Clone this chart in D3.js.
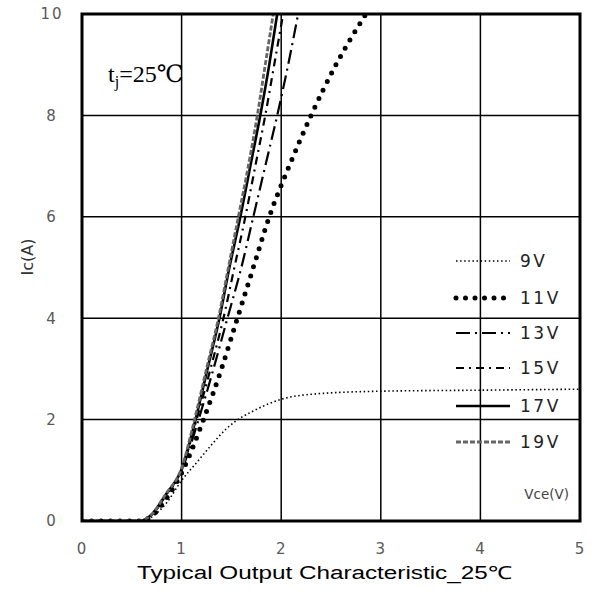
<!DOCTYPE html>
<html>
<head>
<meta charset="utf-8">
<script src="https://cdn.jsdelivr.net/npm/d3@7"></script>
<style>
  body { margin: 0; background: #fff; }
  .serif { font-family: "Liberation Serif", "Times New Roman", "DejaVu Serif", "Noto Serif", serif; }
</style>
</head>
<body>
<div id="chart"></div>
<script>
// gate voltages and Vce/Ic points
var series = ["9V", "11V", "13V", "15V", "17V", "19V"];

var vce9  = [0, 0.58, 0.7, 0.85, 1.0, 1.15, 1.3, 1.45, 1.55, 1.7, 2.0, 2.3, 3.0, 4.0, 5.0];
var ic9   = [0, 0, 0.08, 0.36, 0.8, 1.15, 1.5, 1.82, 1.98, 2.15, 2.4, 2.5, 2.56, 2.58, 2.6];

var vce11 = [0, 0.58, 0.7, 0.85, 1.0, 1.22, 1.4, 1.56, 1.72, 1.88, 2.08, 2.3, 2.55, 2.85];
var ic11  = [0, 0, 0.1, 0.45, 0.95, 2.0, 3.0, 4.0, 5.0, 6.0, 7.0, 8.0, 9.0, 10.0];

var vce13 = [0, 0.58, 0.7, 0.84, 1.0, 1.17, 1.32, 1.46, 1.6, 1.72, 1.84, 1.96, 2.07, 2.17];
var ic13  = [0, 0, 0.12, 0.5, 1.0, 2.0, 3.0, 4.0, 5.0, 6.0, 7.0, 8.0, 9.0, 10.0];

var vce15 = [0, 0.58, 0.7, 0.84, 1.0, 1.15, 1.29, 1.42, 1.53, 1.64, 1.74, 1.84, 1.93, 2.02];
var ic15  = [0, 0, 0.12, 0.5, 1.0, 2.0, 3.0, 4.0, 5.0, 6.0, 7.0, 8.0, 9.0, 10.0];

var vce17 = [0, 0.58, 0.7, 0.84, 1.0, 1.14, 1.26, 1.38, 1.48, 1.59, 1.69, 1.79, 1.88, 1.96];
var ic17  = [0, 0, 0.13, 0.52, 1.02, 2.0, 3.0, 4.0, 5.0, 6.0, 7.0, 8.0, 9.0, 10.0];

var vce19 = [0, 0.58, 0.7, 0.84, 1.0, 1.13, 1.25, 1.37, 1.47, 1.57, 1.67, 1.76, 1.84, 1.92];
var ic19  = [0, 0, 0.13, 0.53, 1.04, 2.0, 3.0, 4.0, 5.0, 6.0, 7.0, 8.0, 9.0, 10.0];

var xTicks = [0, 1, 2, 3, 4, 5];
var yTicks = [0, 2, 4, 6, 8, 10];

function init(){
    var w = 593, h = 594;
    var left = 82, right = 580, top = 14, bottom = 521;

    var xScale = d3.scaleLinear().domain([0, 5]).range([left, right]);
    var yScale = d3.scaleLinear().domain([0, 10]).range([bottom, top]);

    var svg = d3.select("#chart").append("svg")
                .attr("width", w)
                .attr("height", h);

    // grid
    var grid = svg.append("g");
    grid.selectAll(".gx").data(xTicks.slice(1, -1)).enter().append("line")
        .attr("x1", function(d){ return xScale(d); })
        .attr("x2", function(d){ return xScale(d); })
        .attr("y1", top).attr("y2", bottom)
        .attr("stroke", "#000").attr("stroke-width", 1.5);
    grid.selectAll(".gy").data(yTicks.slice(1, -1)).enter().append("line")
        .attr("y1", function(d){ return yScale(d); })
        .attr("y2", function(d){ return yScale(d); })
        .attr("x1", left).attr("x2", right)
        .attr("stroke", "#000").attr("stroke-width", 1.5);

    // axes: only the labels, no tick marks
    var xAxis = d3.axisBottom(xScale).tickValues(xTicks).tickFormat(d3.format("d")).tickSize(0).tickPadding(22);
    var yAxis = d3.axisLeft(yScale).tickValues(yTicks).tickFormat(d3.format("d")).tickSize(0).tickPadding(30);
    var gx = svg.append("g").attr("transform", "translate(0," + bottom + ")").call(xAxis);
    var gy = svg.append("g").attr("transform", "translate(" + left + ",0)").call(yAxis);
    [gx, gy].forEach(function(g){
        g.select(".domain").remove();
        g.selectAll("text")
            .attr("fill", "#595959")
            .style("font-family", "'DejaVu Sans', sans-serif")
            .style("font-size", "15px")
            .style("letter-spacing", "2px");
    });
    gy.selectAll("text").attr("text-anchor", "middle");

    // curves
    var styles = {
        "9V":  {color: "#000", width: 1.6, dash: "1.5,2.6",  cap: "butt"},
        "11V": {color: "#000", width: 5,   dash: "0,9.5",    cap: "round"},
        "13V": {color: "#000", width: 2.2, dash: "14,5,2,5", cap: "butt"},
        "15V": {color: "#000", width: 2.2, dash: "8,5,2,5",  cap: "butt"},
        "17V": {color: "#000", width: 2.6, dash: null,       cap: "butt"},
        "19V": {color: "#666", width: 2.8, dash: "5,2",      cap: "butt"}
    };
    var xs = {"9V": vce9, "11V": vce11, "13V": vce13, "15V": vce15, "17V": vce17, "19V": vce19};
    var ys = {"9V": ic9,  "11V": ic11,  "13V": ic13,  "15V": ic15,  "17V": ic17,  "19V": ic19};

    svg.append("clipPath").attr("id", "clip").append("rect")
        .attr("x", left).attr("y", top)
        .attr("width", right - left).attr("height", bottom - top);

    var line = d3.line()
        .x(function(d){ return xScale(d[0]); })
        .y(function(d){ return yScale(d[1]); })
        .curve(d3.curveMonotoneX);

    var curves = svg.append("g").attr("clip-path", "url(#clip)");
    series.forEach(function(s){
        var pts = xs[s].map(function(v, i){ return [v, ys[s][i]]; });
        var st = styles[s];
        curves.append("path")
            .attr("d", line(pts))
            .attr("fill", "none")
            .attr("stroke", st.color)
            .attr("stroke-width", st.width)
            .attr("stroke-dasharray", st.dash)
            .attr("stroke-linecap", st.cap);
    });

    // frame
    svg.append("rect")
        .attr("x", left).attr("y", top)
        .attr("width", right - left).attr("height", bottom - top)
        .attr("fill", "none").attr("stroke", "#000").attr("stroke-width", 3);

    // legend
    var legY = [261, 298, 333, 368, 406, 442];
    var leg = svg.append("g");
    series.forEach(function(s, i){
        var st = styles[s];
        leg.append("line")
            .attr("x1", 456).attr("x2", 510)
            .attr("y1", legY[i]).attr("y2", legY[i])
            .attr("stroke", st.color)
            .attr("stroke-width", st.width)
            .attr("stroke-dasharray", st.dash)
            .attr("stroke-linecap", st.cap);
        leg.append("text")
            .attr("x", 520).attr("y", legY[i])
            .attr("dy", "0.36em")
            .attr("fill", "#222")
            .style("font-family", "'DejaVu Sans', sans-serif")
            .style("font-size", "17px")
            .style("letter-spacing", "2.5px")
            .text(s);
    });

    svg.append("text")
        .attr("x", 569).attr("y", 499)
        .attr("text-anchor", "end")
        .attr("fill", "#444")
        .style("font-family", "'DejaVu Sans', sans-serif")
        .style("font-size", "13.5px")
        .text("Vce(V)");

    // tj label, serif like the original
    var tj = svg.append("text")
        .attr("class", "serif")
        .attr("x", 108).attr("y", 82)
        .attr("fill", "#000")
        .attr("font-size", 24);
    tj.append("tspan").attr("class", "serif").text("t");
    tj.append("tspan").attr("class", "serif").attr("dy", 5).attr("font-size", 16).text("j");
    tj.append("tspan").attr("class", "serif").attr("dy", -5).text("=25℃");

    // axis titles
    svg.append("text")
        .attr("x", 137).attr("y", 579)
        .attr("textLength", 375)
        .attr("lengthAdjust", "spacingAndGlyphs")
        .attr("fill", "#000")
        .style("font-family", "'Liberation Sans', Arial, sans-serif")
        .style("font-size", "18px")
        .text("Typical Output Characteristic_25℃");

    svg.append("text")
        .attr("transform", "translate(33,257) rotate(-90)")
        .attr("text-anchor", "middle")
        .attr("fill", "#333")
        .style("font-family", "'DejaVu Sans', sans-serif")
        .style("font-size", "16px")
        .text("Ic(A)");
}

window.onload = init;
</script>
</body>
</html>
